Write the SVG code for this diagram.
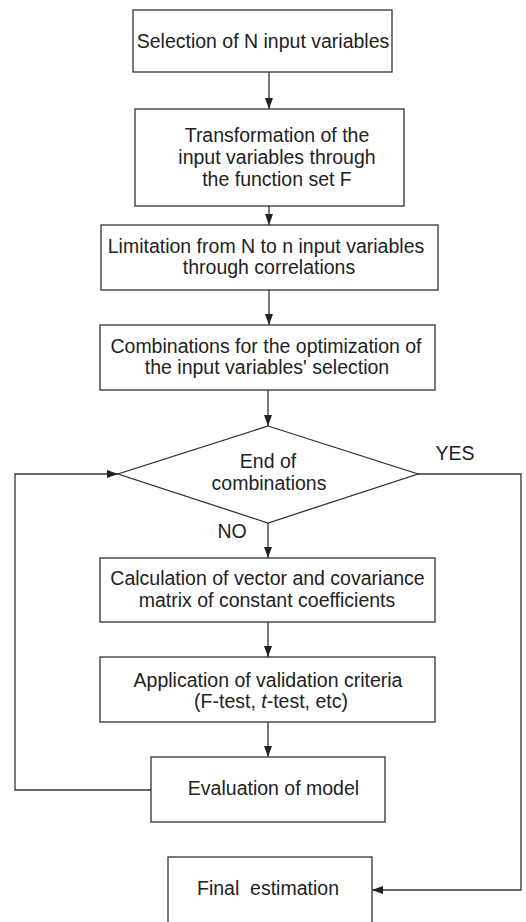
<svg xmlns="http://www.w3.org/2000/svg" width="526" height="922" viewBox="0 0 526 922">
<style>
.box{fill:#fff;stroke:#333;stroke-width:1.3}
.t{font-family:"Liberation Sans",Arial,sans-serif;font-size:19.5px;fill:#222;text-anchor:middle}
.c{fill:none;stroke:#333;stroke-width:1.3}
</style>
<defs>
<marker id="ah" markerUnits="userSpaceOnUse" markerWidth="11" markerHeight="8" refX="11" refY="4" orient="auto">
<path d="M0,0 L11,4 L0,8 z" fill="#222"/>
</marker>
</defs>
<rect width="526" height="922" fill="#fff"/>
<g id="connectors">
<path class="c" d="M269,72 V109" marker-end="url(#ah)"/>
<path class="c" d="M269,206 V225" marker-end="url(#ah)"/>
<path class="c" d="M269,290 V325" marker-end="url(#ah)"/>
<path class="c" d="M268,390 V426" marker-end="url(#ah)"/>
<path class="c" d="M268,523 V558" marker-end="url(#ah)"/>
<path class="c" d="M268,622 V657" marker-end="url(#ah)"/>
<path class="c" d="M268,722 V757" marker-end="url(#ah)"/>
<path class="c" d="M151,790 H15 V474 H118" marker-end="url(#ah)"/>
<path class="c" d="M418,474 H521 V890 H372" marker-end="url(#ah)"/>
<text class="t" x="455" y="460">YES</text>
<text class="t" x="232" y="538">NO</text>
</g>
<g id="n1">
<rect class="box" x="133" y="10" width="259" height="62"/>
<text class="t" x="263" y="48">Selection of N input variables</text>
</g>
<g id="n2">
<rect class="box" x="135" y="109" width="269" height="97"/>
<text class="t" x="277" y="142">Transformation of the</text>
<text class="t" x="277" y="164">input variables through</text>
<text class="t" x="277" y="186">the function set F</text>
</g>
<g id="n3">
<rect class="box" x="101" y="225" width="337" height="65"/>
<text class="t" x="266" y="253">Limitation from N to n input variables</text>
<text class="t" x="269" y="274">through correlations</text>
</g>
<g id="n4">
<rect class="box" x="100" y="325" width="335" height="65"/>
<text class="t" x="266" y="353">Combinations for the optimization of</text>
<text class="t" x="267" y="374">the input variables' selection</text>
</g>
<g id="n5">
<polygon class="box" points="268,426 418,474 268,523 118,474"/>
<text class="t" x="268" y="468">End of</text>
<text class="t" x="269" y="490">combinations</text>
</g>
<g id="n6">
<rect class="box" x="100" y="558" width="335" height="64"/>
<text class="t" x="267.5" y="585">Calculation of vector and covariance</text>
<text class="t" x="267" y="607">matrix of constant coefficients</text>
</g>
<g id="n7">
<rect class="box" x="100" y="657" width="335" height="65"/>
<text class="t" x="268" y="687">Application of validation criteria</text>
<text class="t" x="271" y="708">(F-test, <tspan font-style="italic">t</tspan>-test, etc)</text>
</g>
<g id="n8">
<rect class="box" x="151" y="757" width="234" height="65"/>
<text class="t" x="273.5" y="795">Evaluation of model</text>
</g>
<g id="n9">
<rect class="box" x="168" y="857" width="204" height="80"/>
<text class="t" x="268" y="895" xml:space="preserve">Final  estimation</text>
</g>
</svg>
